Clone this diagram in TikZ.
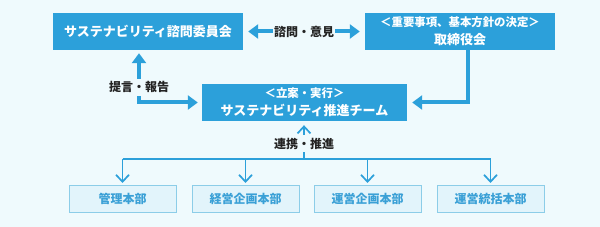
\documentclass[tikz,border=0pt]{standalone}
\usepackage{fontspec}
\setmainfont{Noto Sans CJK JP}
\usetikzlibrary{positioning,arrows.meta,calc}
\definecolor{bgcyan}{RGB}{239,250,253}
\definecolor{boxblue}{RGB}{44,160,218}
\definecolor{deptfill}{RGB}{226,244,251}
\definecolor{deptline}{RGB}{140,205,232}
\definecolor{depttext}{RGB}{58,160,214}
\definecolor{inkblack}{RGB}{35,35,35}
\newcommand{\subln}[1]{{\fontsize{11.4}{17}\selectfont #1}}
\tikzset{
  mainbox/.style ={fill=boxblue, text=white, align=center, inner sep=0pt,
                   font=\bfseries\fontsize{13}{18}\selectfont,
                   minimum width=190pt, minimum height=37pt},
  deptbox/.style ={draw=deptline, fill=deptfill, text=depttext, line width=1pt,
                   font=\bfseries\fontsize{12}{14}\selectfont,
                   minimum width=107pt, minimum height=27pt, inner sep=0pt},
  lbl/.style     ={fill=bgcyan, text=inkblack, inner xsep=1pt, inner ysep=3pt,
                   font=\bfseries\fontsize{12}{14}\selectfont},
  thickar/.style ={-{Triangle[length=10pt,width=14pt]}, draw=boxblue, line width=4pt},
  bothar/.style  ={{Triangle[length=10pt,width=14pt]}-{Triangle[length=10pt,width=14pt]},
                   draw=boxblue, line width=4pt},
  thinar/.style  ={-{Straight Barb[length=7pt,width=13pt]}, draw=boxblue, line width=1.7pt},
}
\begin{document}
\begin{tikzpicture}[x=1pt,y=-1pt]
\fill[bgcyan] (0,0) rectangle (600,227);
\useasboundingbox (0,0) rectangle (600,227);
% upper tier
\node[mainbox] (council) at (148,31.5) {サステナビリティ諮問委員会};
\node[mainbox] (board) at (460,31.5) {\subln{＜重要事項、基本方針の決定＞}\\取締役会};
\node[mainbox, minimum width=205pt] (team) at (304.5,102.5)
  {\subln{＜立案・実行＞}\\サステナビリティ推進チーム};
% departments
\foreach \x/\nm/\txt in {122.5/kanri/管理本部, 245.5/keiei/経営企画本部,
                         367.5/unei/運営企画本部, 490.5/tokatsu/運営統括本部}{
  \node[deptbox] (\nm) at (\x,199) {\txt};
}
\coordinate (rep) at (139,102.5);
\coordinate (turn) at (468,102.5);
\coordinate (bus) at (304,159);
% connectors
\draw[bothar, shorten <=5pt, shorten >=5pt] (council.east) -- node[lbl] {諮問・意見} (board.west);
\draw[bothar, shorten <=3pt, shorten >=4pt] (council.south -| rep) -- node[lbl,pos=0.71] {提言・報告} (rep) -- (team.west);
\draw[thickar, shorten >=5pt] (board.south -| turn) |- (team.east);
\draw[thinar, shorten >=4pt] (bus) -- node[lbl,pos=0.41] {連携・推進} (team.south -| bus);
\draw[boxblue, line width=1.7pt] (kanri.north |- bus) -- (tokatsu.north |- bus);
\foreach \nm in {kanri,keiei,unei,tokatsu}{
  \draw[thinar, shorten >=2pt] (\nm.north |- bus) -- (\nm.north);
}
\end{tikzpicture}
\end{document}
